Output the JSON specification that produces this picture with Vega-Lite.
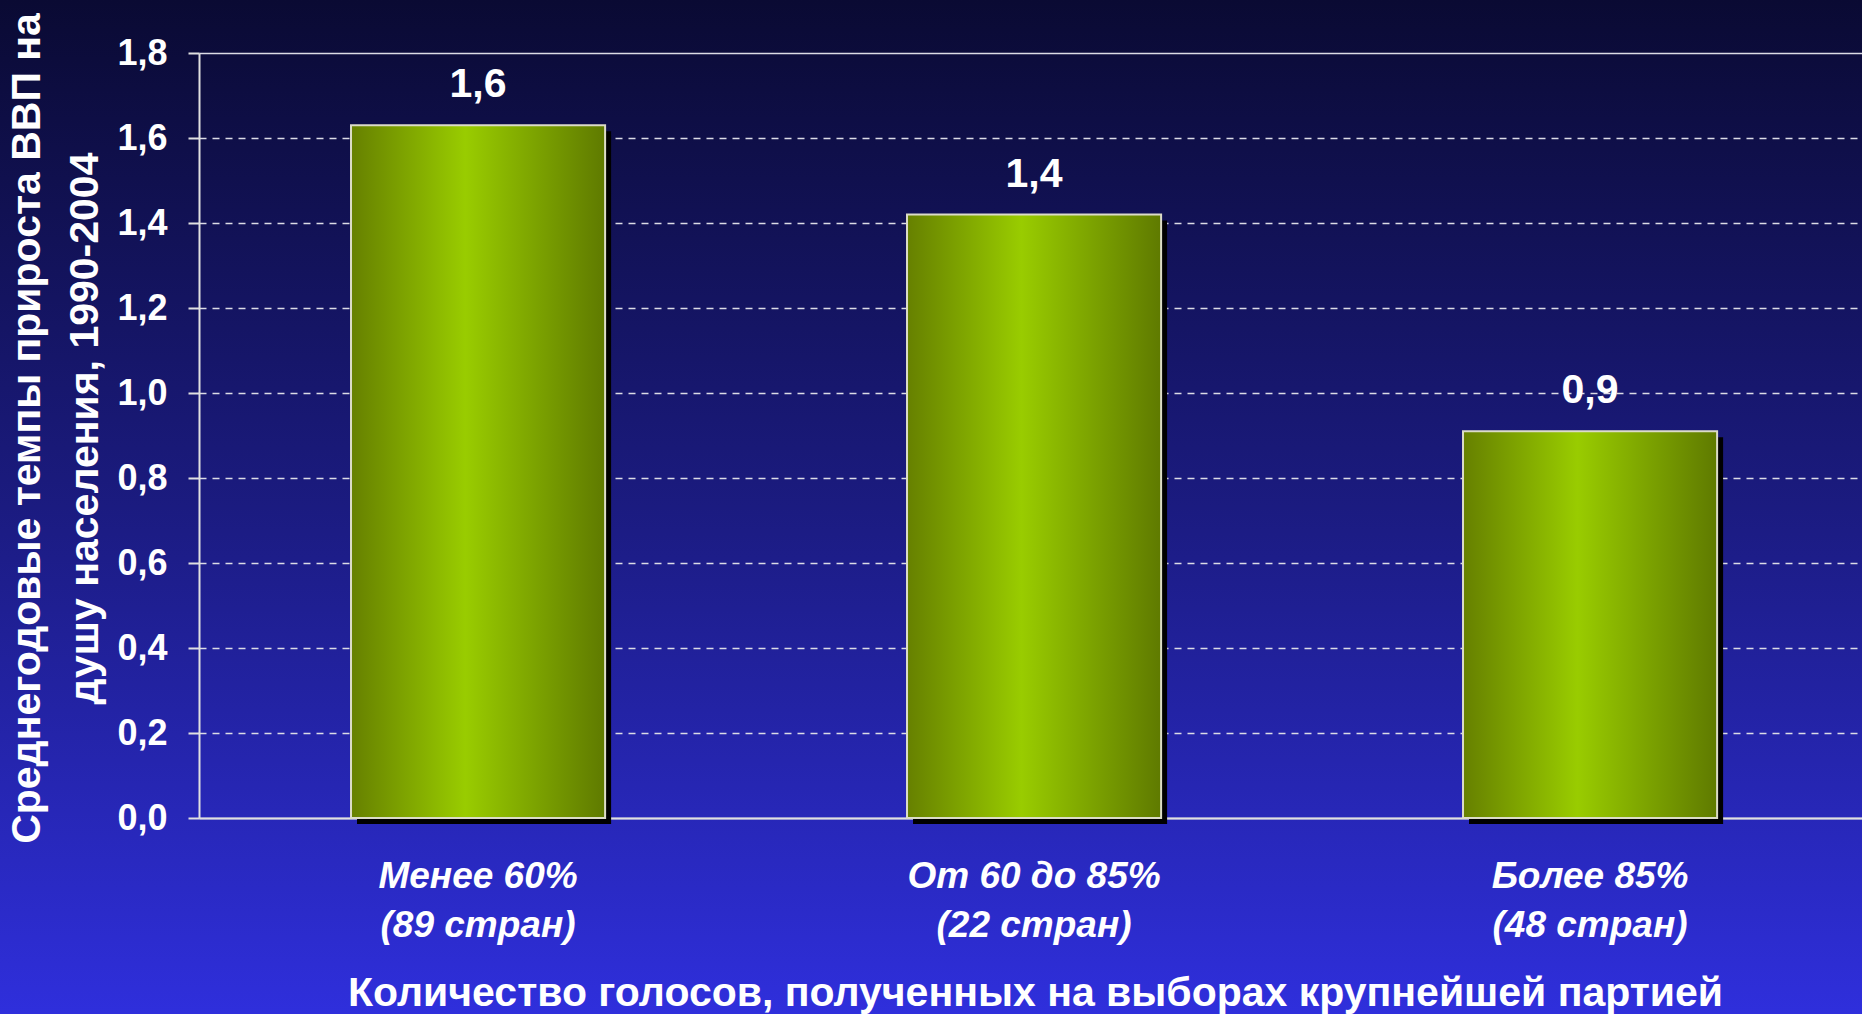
{
  "$schema": "https://vega.github.io/schema/vega-lite/v6.json",
  "width": 1862,
  "height": 1014,
  "autosize": {"type": "none"},
  "padding": 0,
  "background": "#1a1a80",
  "config": {
    "font": "Liberation Sans",
    "view": {
      "stroke": null,
      "fill": {
        "gradient": "linear", "x1": 0, "y1": 0, "x2": 0, "y2": 1,
        "stops": [
          {"offset": 0, "color": "#0a0a33"},
          {"offset": 0.5, "color": "#1b1b80"},
          {"offset": 1, "color": "#2f2fdc"}
        ]
      }
    },
    "locale": {
      "number": {"decimal": ",", "thousands": " ", "grouping": [3], "currency": ["", " ₽"]}
    }
  },
  "data": {
    "values": [
      {"group": "Менее 60% (89 стран)", "growth": 1.63},
      {"group": "От 60 до 85% (22 стран)", "growth": 1.42},
      {"group": "Более 85% (48 стран)", "growth": 0.91}
    ]
  },
  "encoding": {
    "x": {
      "field": "group",
      "type": "nominal",
      "sort": null,
      "scale": {"range": [199, 1862], "paddingInner": 0.543, "paddingOuter": 0.267, "align": 0.512},
      "axis": {
        "orient": "bottom",
        "offset": -196,
        "grid": false,
        "ticks": false,
        "domain": true,
        "domainColor": "#e0e0e0",
        "domainWidth": 2,
        "labelAngle": 0,
        "labelLimit": 0,
        "labelExpr": "[slice(datum.label, 0, indexof(datum.label, ' (')), slice(datum.label, indexof(datum.label, ' (') + 1)]",
        "labelFontSize": 37,
        "labelFontStyle": "italic",
        "labelFontWeight": "bold",
        "labelColor": "#ffffff",
        "labelBaseline": "top",
        "labelPadding": 40,
        "labelLineHeight": 49,
        "title": "Количество голосов, полученных на выборах крупнейшей партией",
        "titleFontSize": 41,
        "titleFontWeight": "bold",
        "titleColor": "#ffffff",
        "titleBaseline": "alphabetic",
        "titleX": 1035,
        "titleY": 187
      }
    },
    "y": {
      "field": "growth",
      "type": "quantitative",
      "scale": {"domain": [0, 1.8], "range": [818, 53], "nice": false},
      "axis": {
        "orient": "left",
        "offset": -199,
        "values": [0, 0.2, 0.4, 0.6, 0.8, 1, 1.2, 1.4, 1.6, 1.8],
        "format": ".1f",
        "labelFontSize": 36,
        "labelFontWeight": "bold",
        "labelColor": "#ffffff",
        "labelPadding": 21,
        "tickSize": 11,
        "tickColor": "#e0e0e0",
        "tickWidth": 2,
        "domainColor": "#e0e0e0",
        "domainWidth": 2,
        "grid": true,
        "gridColor": "#dcdce6",
        "gridWidth": 1.5,
        "gridDash": {"condition": {"test": "datum.value === 0 || datum.value === 1.8", "value": [1, 0]}, "value": [7, 6]},
        "title": ["Среднегодовые темпы прироста ВВП на", "душу населения, 1990-2004"],
        "titleFontSize": 41,
        "titleFontWeight": "bold",
        "titleColor": "#ffffff",
        "titleAngle": 270,
        "titleAlign": "center",
        "titleBaseline": "top",
        "titleLineHeight": 58,
        "titleX": -192,
        "titleY": 428
      }
    }
  },
  "layer": [
    {
      "mark": {"type": "bar", "fill": "#000000", "xOffset": 6, "yOffset": 6}
    },
    {
      "mark": {
        "type": "bar",
        "stroke": "#dcdcc8",
        "strokeWidth": 2,
        "fill": {
          "gradient": "linear", "x1": 0, "y1": 0, "x2": 1, "y2": 0,
          "stops": [
            {"offset": 0, "color": "#668000"},
            {"offset": 0.45, "color": "#99cc00"},
            {"offset": 1, "color": "#5f7a00"}
          ]
        }
      }
    },
    {
      "mark": {"type": "text", "dy": -28, "fontSize": 41, "fontWeight": "bold", "color": "#ffffff", "baseline": "alphabetic"},
      "encoding": {"text": {"field": "growth", "type": "quantitative", "format": ".1f"}}
    }
  ]
}
